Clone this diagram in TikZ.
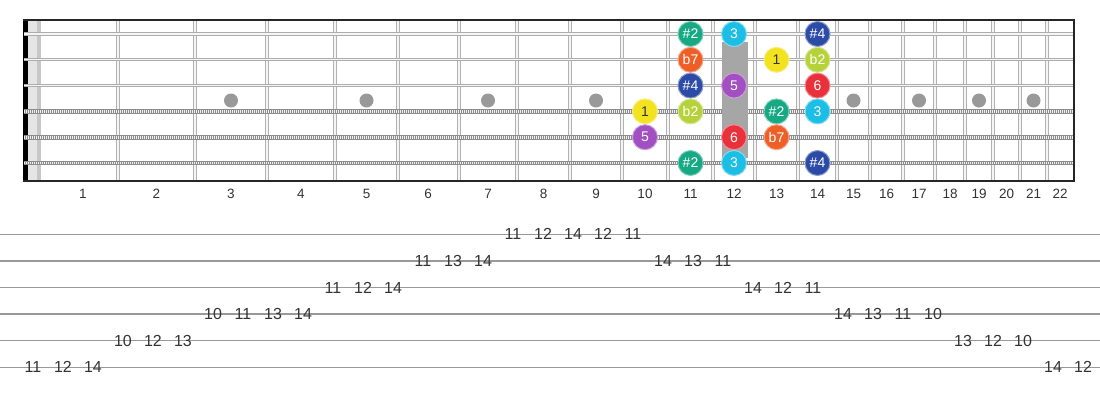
\documentclass[tikz,border=0pt]{standalone}
\usepackage{fontspec}
\setmainfont{Liberation Sans}

\definecolor{cdeg1}{HTML}{F2E21F}
\definecolor{cdegb2}{HTML}{B6D23A}
\definecolor{cdegs2}{HTML}{17A884}
\definecolor{cdeg3}{HTML}{1CBEE6}
\definecolor{cdegs4}{HTML}{2C4BA6}
\definecolor{cdeg5}{HTML}{A24FC2}
\definecolor{cdeg6}{HTML}{E8313B}
\definecolor{cdegb7}{HTML}{EE5F27}

\tikzset{
    note/.style={circle, minimum size=25pt, inner sep=0pt, line width=1pt,
        text=white, font=\fontsize{14}{14}\selectfont},
    deg/.style={fill=#1, draw=#1!55!white},
    deg1/.style={deg=cdeg1, text=black!80},
    degb2/.style={deg=cdegb2},
    degs2/.style={deg=cdegs2},
    deg3/.style={deg=cdeg3},
    degs4/.style={deg=cdegs4},
    deg5/.style={deg=cdeg5},
    deg6/.style={deg=cdeg6},
    degb7/.style={deg=cdegb7},
    fretwire/.style={draw=black!30, double=black!4, double distance=1.3pt, line width=1pt},
    plainstr/.style={draw=black!32, double=black!4, double distance=1.2pt, line width=1pt},
    woundcore/.style={line width=4.6pt, black!45},
    woundwrap/.style={line width=2.6pt, black!6, dash pattern=on 1pt off 1pt},
    inlay/.style={fill=black!40},
    tabline/.style={line width=1.4pt, black!40},
    tabnum/.style={font=\fontsize{16}{16}\selectfont, text=black!80, inner sep=0pt},
    fretnum/.style={font=\fontsize{13.5}{14}\selectfont, text=black!80, inner sep=0pt},
}

\begin{document}
\begin{tikzpicture}[x=1pt, y=-1pt]
    \useasboundingbox (0,0) rectangle (1100,400);

    % 弦的位置
    \foreach \s/\y in {1/34, 2/59.8, 3/85.6, 4/111.4, 5/137.2, 6/163}
        \coordinate (s\s) at (0,\y);
    \coordinate (dotrow) at (0,100.5);

    % 品号
    \foreach \n/\x in {1/83, 2/156.5, 3/231, 4/301, 5/366.5, 6/428, 7/488, 8/543.5,
        9/596, 10/645, 11/690.5, 12/734, 13/776.5, 14/817.5, 15/853.5, 16/886.5,
        17/919, 18/950, 19/979, 20/1006.5, 21/1033.5, 22/1060}
        \node[fretnum] (f\n) at (\x,194) {\n};

    % 琴枕
    \fill[black] (23,19) rectangle (28,181);
    \fill[black!10] (28,20) rectangle (37,180);
    \fill[black!22] (37,20) rectangle (41,180);

    % 品丝
    \foreach \x in {118,195,267,335,398,459,517,570,622,668,713,755,798,837,
        870,903,935,965,993,1020,1047}
        \draw[fretwire] (\x,20.5) -- (\x,179.5);

    % 品位标记
    \foreach \n in {3,5,7,9,15,17,19,21}
        \fill[inlay] (f\n |- dotrow) circle (7pt);

    % 琴弦
    \foreach \s in {1,2,3}
        \draw[plainstr] ([xshift=24pt]s\s) -- ([xshift=1075pt]s\s);
    \foreach \s in {4,5,6} {
        \draw[woundcore] ([xshift=24pt]s\s) -- ([xshift=1075pt]s\s);
        \draw[woundwrap] ([xshift=24pt]s\s) -- ([xshift=1075pt]s\s);
    }

    % 第12品的灰条
    \fill[black!35] (722,42) rectangle (748,158);

    % 边框
    \draw[line width=2pt, black!85] (23,19.5) -- (1075,19.5);
    \draw[line width=2pt, black!85] (23,180.5) -- (1075,180.5);
    \draw[line width=2pt, black!85] (1074,19) -- (1074,181);

    % 音符
    \foreach \s/\f/\c/\t in {1/11/degs2/\#2, 1/12/deg3/3, 1/14/degs4/\#4,
        2/11/degb7/b7, 2/13/deg1/1, 2/14/degb2/b2,
        3/11/degs4/\#4, 3/12/deg5/5, 3/14/deg6/6,
        4/10/deg1/1, 4/11/degb2/b2, 4/13/degs2/\#2, 4/14/deg3/3,
        5/10/deg5/5, 5/12/deg6/6, 5/13/degb7/b7,
        6/11/degs2/\#2, 6/12/deg3/3, 6/14/degs4/\#4}
        \node[note, \c] (n\s-\f) at (f\f |- s\s) {\t};

    % 六线谱
    \foreach \l in {1,...,6}
        \draw[tabline] (0,{234.3+26.6*(\l-1)}) -- (1100,{234.3+26.6*(\l-1)});
    \foreach \l/\v [count=\k from 0] in {6/11, 6/12, 6/14, 5/10, 5/12, 5/13,
        4/10, 4/11, 4/13, 4/14, 3/11, 3/12, 3/14, 2/11, 2/13, 2/14,
        1/11, 1/12, 1/14, 1/12, 1/11, 2/14, 2/13, 2/11, 3/14, 3/12, 3/11,
        4/14, 4/13, 4/11, 4/10, 5/13, 5/12, 5/10, 6/14, 6/12}
        \node[tabnum] (t\k) at ({33+30*\k},{234.3+26.6*(\l-1)}) {\v};
\end{tikzpicture}
\end{document}
